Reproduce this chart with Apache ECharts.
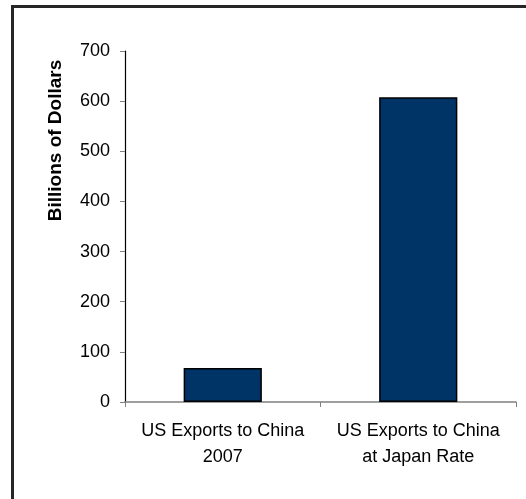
<!DOCTYPE html>
<html><head><meta charset="utf-8">
<script src="https://cdn.jsdelivr.net/npm/echarts@6/dist/echarts.min.js"></script>
<style>html,body{margin:0;padding:0;background:#fff}#c{width:526px;height:499px}</style>
</head><body><div id="c"></div>
<script>
const categories = ['US Exports to China\n2007', 'US Exports to China\nat Japan Rate'];
const values = [68, 608];
const yTicks = [0, 100, 200, 300, 400, 500, 600, 700];

const chart = echarts.init(document.getElementById('c'), null, {renderer: 'canvas'});
chart.setOption({
  animation: false,
  backgroundColor: '#fff',
  graphic: [{
    type: 'rect', silent: true,
    shape: {x: 12.5, y: 6.5, width: 560, height: 520},
    style: {fill: 'none', stroke: '#262626', lineWidth: 3}
  }],
  grid: {left: 125, right: 10, top: 51, bottom: 97},
  xAxis: {
    type: 'category', data: categories,
    axisLine: {lineStyle: {color: '#808080', width: 1.5}},
    axisTick: {show: true, length: 5, lineStyle: {color: '#808080'}},
    axisLabel: {color: '#000', fontFamily: 'Liberation Sans, Arial', fontSize: 18, lineHeight: 26, margin: 16, interval: 0}
  },
  yAxis: {
    type: 'value', min: yTicks[0], max: yTicks[yTicks.length - 1], interval: 100,
    name: 'Billions of Dollars', nameLocation: 'middle', nameGap: 60,
    nameTextStyle: {color: '#000', fontFamily: 'Liberation Sans, Arial', fontSize: 19, fontWeight: 'bold', padding: [0, 0, 0, 172]},
    axisLine: {show: true, lineStyle: {color: '#000', width: 1.2}},
    axisTick: {show: true, length: 5, lineStyle: {color: '#808080'}},
    splitLine: {show: false},
    axisLabel: {color: '#000', fontFamily: 'Liberation Sans, Arial', fontSize: 18, margin: 15}
  },
  series: [{
    type: 'bar', data: values, barWidth: '40%',
    itemStyle: {color: '#003366', borderColor: '#000', borderWidth: 1.5}
  }]
});
</script></body></html>
